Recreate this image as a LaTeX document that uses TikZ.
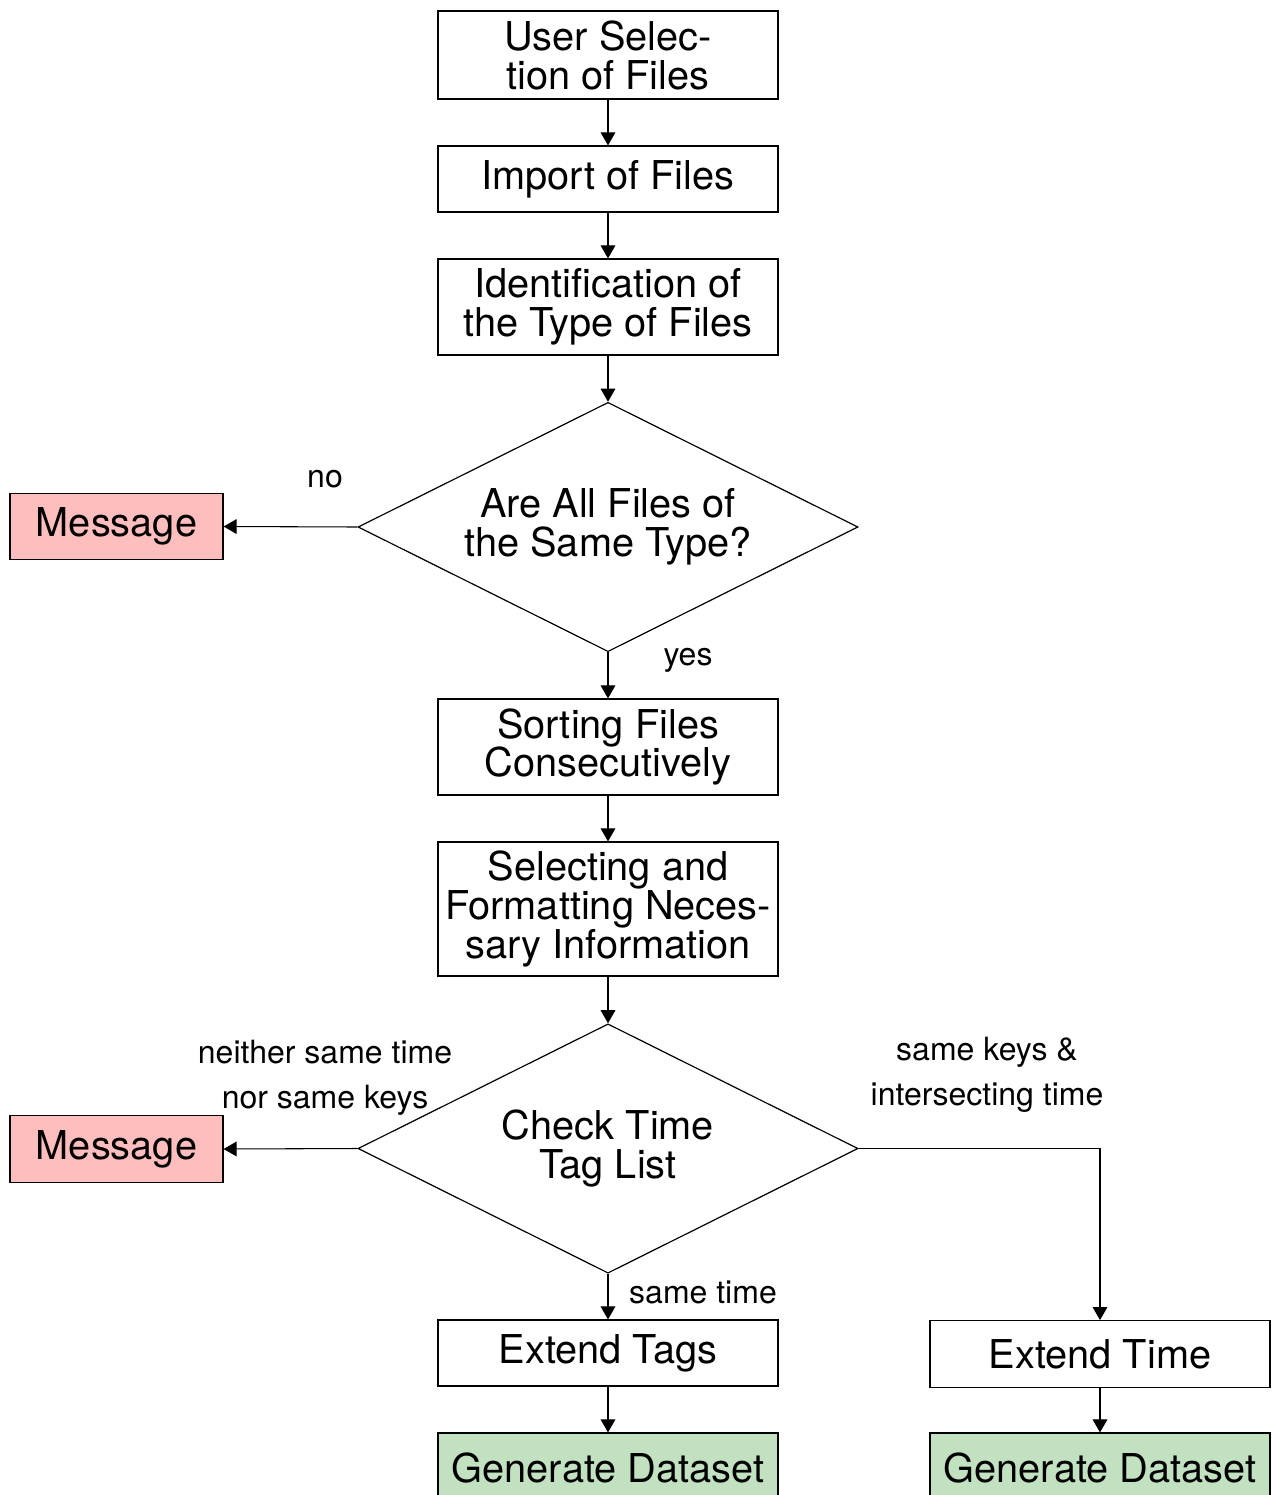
\documentclass[tikz,border=0pt]{standalone}
\usepackage{fontspec}
\setmainfont{TeX Gyre Heros}
\usetikzlibrary{shapes.geometric,arrows.meta}
\definecolor{msgred}{RGB}{255,190,190}
\definecolor{okgreen}{RGB}{194,225,193}

\begin{document}
\begin{tikzpicture}[x=0.75pt,y=-0.75pt,
  box/.style={draw=black, line width=0.9pt, rectangle, inner sep=0pt,
    minimum width=255pt, align=center, font=\fontsize{29.8}{29.2}\selectfont},
  msgbox/.style={box, fill=msgred, minimum width=159.75pt, minimum height=50pt},
  genbox/.style={box, fill=okgreen, minimum height=52.5pt},
  decision/.style={draw=black, line width=0.9pt, shape=diamond, aspect=2,
    inner sep=0pt, minimum width=375pt, minimum height=187pt, align=center,
    font=\fontsize{29.8}{29.2}\selectfont},
  lbl/.style={inner sep=0pt, align=center, font=\fontsize{24}{34}\selectfont},
  flow/.style={draw=black, line width=0.8pt, -{Triangle[length=9.75pt,width=11pt]}}
]
\path[use as bounding box, clip] (0,0) rectangle (1271,1495);

% main column
\node[box, minimum height=66pt]   (select)  at (608,55)    {User Selec-\\tion of Files};
\node[box, minimum height=49.5pt] (import)  at (608,179)   {Import of Files};
\node[box, minimum height=72pt]   (ident)   at (608,307)   {Identification of\\the Type of Files};
\node[decision]                   (same)    at (608,527)   {Are All Files of\\the Same Type?};
\node[msgbox]                     (msgA)    at (116.5,526.5) {Message};
\node[box, minimum height=72pt]   (sort)    at (608,747)   {Sorting Files\\Consecutively};
\node[box, minimum height=100.5pt](format)  at (608,909)   {Selecting and\\Formatting Neces-\\sary Information};
\node[decision]                   (check)   at (608,1148.5) {Check Time\\Tag List};
\node[msgbox]                     (msgB)    at (116.5,1149) {Message};
\node[box, minimum height=49.5pt] (tags)    at (608,1353)  {Extend Tags};
\node[box, minimum height=50pt]   (time)    at (1100,1354) {Extend Time};
\node[genbox]                     (genA)    at (608,1468) {Generate Dataset};
\node[genbox]                     (genB)    at (1100,1468) {Generate Dataset};

% connectors
\draw[flow] (select) -- (import);
\draw[flow] (import) -- (ident);
\draw[flow] (ident) -- (same);
\draw[flow] (same.west) -- (msgA.east);
\draw[flow] (same.south) -- (sort.north);
\draw[flow] (sort) -- (format);
\draw[flow] (format) -- (check.north);
\draw[flow] (check.west) -- (msgB.east);
\draw[flow] (check.south) -- (tags.north);
\draw[flow] (check.east) -| (time.north);
\draw[flow] (tags) -- (genA);
\draw[flow] (time) -- (genB);

% branch labels
\node[lbl] (lno)    at (325,479)  {no};
\node[lbl] (lyes)   at (688,660)  {yes};
\node[lbl] (lnone)  at (325,1078) {neither same time\\nor same keys};
\node[lbl] (lboth)  at (987,1075) {same keys \&\\intersecting time};
\node[lbl] (lsame)  at (703,1292) {same time};
\end{tikzpicture}
\end{document}
